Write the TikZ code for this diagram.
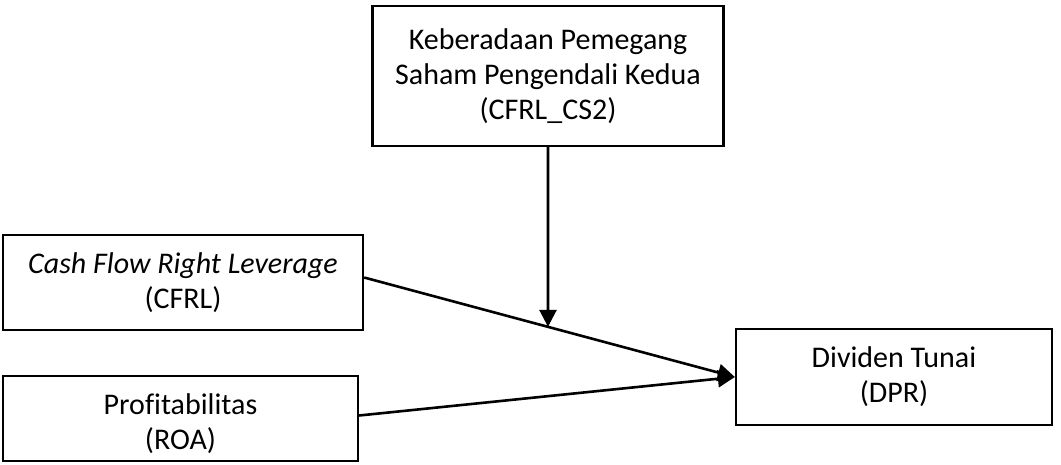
\documentclass[tikz,border=0pt]{standalone}
\usepackage{fontspec}
\setmainfont[Ligatures=NoCommon]{Carlito}
\usetikzlibrary{arrows.meta,intersections}
\tikzset{
  varbox/.style={draw=black, line width=2.3pt, rectangle, inner sep=0pt,
    align=center, font=\fontsize{30}{35}\selectfont},
  link/.style={line width=2.6pt, -{Triangle[length=17pt,width=17pt]}}
}
\begin{document}
\begin{tikzpicture}[x=1pt,y=-1pt]
  \useasboundingbox (0,0) rectangle (1061,464);
  % moderating variable
  \node[varbox, minimum width=351pt, minimum height=140pt] (cs2) at (548,76)
    {Keberadaan Pemegang\\Saham Pengendali Kedua\\(CFRL\_CS2)};
  % independent variables
  \node[varbox, minimum width=360pt, minimum height=95pt] (cfrl) at (183,282.5)
    {\textit{Cash Flow Right Leverage}\\(CFRL)};
  \node[varbox, minimum width=355pt, minimum height=85pt, text depth=0pt] (roa) at (180.5,418.5)
    {\raisebox{-6pt}{Profitabilitas}\\\raisebox{-6pt}{(ROA)}};
  % dependent variable
  \node[varbox, minimum width=316pt, minimum height=96pt] (dpr) at (894,377)
    {Dividen Tunai\\(DPR)};
  % paths
  \coordinate (tip) at (dpr.west);
  \coordinate (cfrlOut) at ([yshift=5pt]cfrl.east);
  \coordinate (roaOut) at ([yshift=3pt]roa.east);
  \coordinate (down) at (cs2.south |- dpr.south);
  \path[name path=cfrlPath] (cfrlOut) -- (tip);
  \path[name path=drop] (cs2.south) -- (down);
  \path[name intersections={of=cfrlPath and drop, by=mid}];
  \draw[link] (cfrlOut) -- (tip);
  \draw[link] (roaOut) -- (tip);
  \draw[link] (cs2.south) -- (mid);
\end{tikzpicture}
\end{document}
